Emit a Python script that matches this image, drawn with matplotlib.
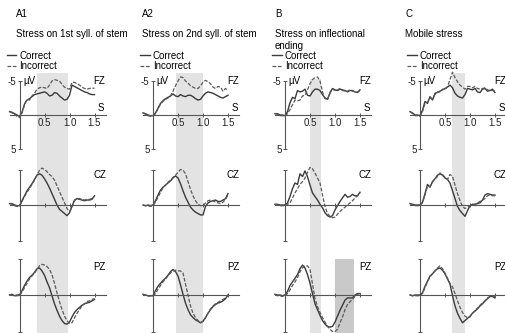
import matplotlib.pyplot as plt

plt.rcParams['font.family'] = ['Liberation Sans Narrow', 'Liberation Sans', 'DejaVu Sans']
plt.rcParams['font.size'] = 7

# time axis (s), shared by all curves
t = [-0.2, -0.15, -0.1, -0.05, 0.0, 0.05, 0.1, 0.15, 0.2, 0.25, 0.3, 0.35,
     0.4, 0.45, 0.5, 0.55, 0.6, 0.65, 0.7, 0.75, 0.8, 0.85, 0.9, 0.95,
     1.0, 1.05, 1.1, 1.15, 1.2, 1.25, 1.3, 1.35, 1.4, 1.45, 1.5]

# ---- amplitudes in µV (negative plotted up) ----
# A1: stress on 1st syllable of stem
a1_fz_cor = [-0.5, -0.4, -0.2, 0.0, 0.2, -0.4, -1.6, -2.2, -2.4, -2.7, -3.0, -3.1,
             -3.2, -3.3, -3.4, -3.2, -2.8, -2.9, -3.3, -3.2, -2.8, -2.5, -2.2, -2.3,
             -2.9, -4.4, -4.2, -4.0, -3.8, -3.6, -3.4, -3.3, -3.1, -3.0, -3.0]
a1_fz_inc = [-0.5, -0.3, -0.1, 0.2, 0.4, -0.3, -1.5, -2.3, -2.2, -2.8, -3.2, -3.8,
             -4.0, -4.1, -4.0, -3.9, -4.4, -5.0, -5.2, -5.1, -5.0, -4.5, -4.1, -3.9,
             -3.8, -4.8, -4.8, -4.6, -4.4, -4.1, -3.9, -3.8, -3.9, -4.0, -3.9]
a1_cz_cor = [-0.2, -0.2, 0.0, 0.1, 0.1, -0.6, -1.3, -2.0, -2.5, -3.0, -3.6, -4.2,
             -4.4, -4.2, -3.7, -3.1, -2.4, -1.6, -0.8, 0.0, 0.6, 0.9, 1.2, 1.5,
             1.1, 0.2, -0.7, -0.9, -0.8, -0.7, -0.6, -0.7, -0.7, -0.8, -1.3]
a1_cz_inc = [-0.2, -0.1, 0.1, 0.2, 0.2, -0.5, -1.2, -1.8, -2.3, -2.9, -3.5, -4.2,
             -4.9, -5.2, -5.0, -4.7, -4.3, -4.0, -3.5, -2.7, -1.9, -1.1, -0.3, 0.5,
             0.9, 0.3, -0.6, -0.9, -0.9, -0.8, -0.7, -0.8, -0.8, -0.9, -1.2]
a1_pz_cor = [0.0, -0.1, 0.1, 0.0, 0.0, -0.6, -1.3, -1.9, -2.4, -2.7, -3.1, -3.6,
             -3.7, -3.3, -2.7, -1.8, -1.0, 0.1, 1.2, 2.1, 2.9, 3.5, 3.9, 4.0,
             3.7, 3.0, 2.4, 2.0, 1.7, 1.4, 1.2, 1.1, 1.0, 0.8, 0.6]
a1_pz_inc = [0.0, 0.0, 0.1, 0.1, 0.1, -0.4, -1.0, -1.6, -2.2, -2.6, -3.0, -3.5,
             -4.0, -4.2, -4.1, -3.9, -3.5, -2.8, -1.6, -0.3, 0.9, 2.0, 2.9, 3.5,
             3.9, 3.8, 3.1, 2.5, 2.0, 1.5, 1.2, 0.9, 0.8, 0.6, 0.5]

# A2: stress on 2nd syllable of stem
a2_fz_cor = [-0.3, -0.2, 0.0, 0.1, 0.1, -0.3, -1.0, -1.7, -2.1, -2.4, -2.6, -2.8,
             -3.1, -2.8, -2.7, -3.0, -2.8, -2.7, -2.9, -2.9, -2.7, -2.4, -2.2, -2.3,
             -2.8, -3.2, -3.4, -3.3, -3.2, -3.0, -2.8, -2.6, -2.5, -2.7, -2.9]
a2_fz_inc = [-0.3, -0.1, 0.1, 0.2, 0.2, -0.2, -0.9, -1.6, -2.0, -2.3, -2.5, -2.8,
             -3.5, -4.3, -5.0, -5.6, -5.5, -5.0, -4.7, -4.3, -4.1, -3.9, -3.9, -4.3,
             -4.8, -5.1, -4.9, -4.6, -4.1, -3.9, -4.2, -4.1, -3.5, -3.9, -3.6]
a2_cz_cor = [0.0, 0.1, 0.0, 0.1, 0.0, -0.6, -1.4, -2.1, -2.5, -2.8, -3.1, -3.4,
             -3.8, -4.1, -3.8, -3.0, -2.0, -1.1, -0.4, 0.3, 0.7, 1.0, 1.2, 1.4,
             1.4, 0.2, -0.3, -0.5, -0.6, -0.7, -0.5, -0.5, -0.7, -0.9, -1.6]
a2_cz_inc = [0.0, 0.1, 0.1, 0.2, 0.1, -0.4, -1.1, -1.8, -2.4, -2.8, -3.2, -3.5,
             -3.9, -4.2, -4.6, -5.0, -4.9, -4.4, -3.3, -2.2, -1.3, -0.6, -0.1, 0.1,
             0.1, -0.3, -0.6, -0.7, -0.6, -0.4, -0.3, -0.2, -0.4, -0.8, -1.4]
a2_pz_cor = [-0.1, 0.0, 0.1, 0.1, 0.1, -0.6, -1.2, -1.6, -2.0, -2.3, -2.7, -3.2,
             -3.5, -3.2, -2.6, -1.4, -0.1, 1.1, 2.0, 2.7, 3.1, 3.4, 3.6, 3.8,
             3.6, 3.1, 2.5, 2.0, 1.6, 1.3, 1.1, 1.0, 0.8, 0.5, 0.0]
a2_pz_inc = [0.0, 0.0, 0.2, 0.1, 0.2, -0.2, -0.8, -1.3, -1.8, -2.2, -2.6, -3.0,
             -3.3, -3.4, -3.3, -3.3, -3.0, -1.5, 0.0, 1.5, 2.5, 3.1, 3.5, 3.8,
             3.6, 3.1, 2.5, 1.9, 1.5, 1.2, 1.0, 0.8, 0.6, 0.4, 0.1]

# B: stress on inflectional ending
b_fz_cor = [-0.2, -0.2, 0.0, 0.0, 0.1, -0.5, -1.8, -2.6, -2.4, -3.6, -3.4, -3.5,
            -3.8, -2.9, -2.8, -3.4, -3.8, -3.8, -3.6, -3.0, -2.5, -2.3, -3.3, -3.9,
            -3.7, -3.6, -3.8, -3.7, -3.6, -3.4, -3.6, -3.6, -3.4, -3.3, -3.7]
b_fz_inc = [-0.2, -0.1, 0.1, 0.1, 0.2, -0.2, -0.8, -1.5, -2.2, -2.1, -2.2, -2.8,
            -2.9, -3.7, -4.6, -5.2, -5.5, -5.6, -5.0, -3.4, -2.4, -2.3, -3.2, -3.8,
            -3.6, -3.7, -3.9, -3.6, -3.5, -3.5, -3.7, -3.5, -3.4, -3.4, -3.6]
b_cz_cor = [-0.1, -0.1, 0.0, 0.0, 0.0, -0.3, -1.2, -2.3, -3.1, -2.9, -4.4, -4.0,
            -4.8, -4.0, -2.8, -1.7, -1.2, -0.7, -0.1, 0.4, 1.1, 1.5, 1.7, 1.5,
            0.7, 0.1, -0.5, -1.0, -1.5, -1.1, -1.2, -1.5, -1.3, -1.3, -1.8]
b_cz_inc = [-0.1, 0.0, 0.1, 0.1, 0.1, -0.1, -0.3, -1.0, -1.7, -2.3, -2.9, -3.3,
            -3.8, -4.6, -5.3, -5.1, -4.5, -3.8, -3.1, -1.4, 0.2, 1.2, 1.6, 1.8,
            1.7, 1.3, 0.9, 0.6, 0.3, 0.0, -0.3, -0.6, -1.0, -1.3, -1.7]
b_pz_cor = [-0.1, 0.0, 0.0, 0.1, 0.0, -0.5, -1.3, -1.8, -2.3, -2.8, -3.6, -4.1,
            -3.7, -2.8, -1.6, -0.2, 1.2, 2.0, 2.8, 3.5, 4.0, 4.3, 4.4, 4.3,
            3.7, 2.9, 2.1, 1.4, 0.7, 0.4, 0.4, 0.4, 0.0, -0.2, -0.2]
b_pz_inc = [-0.1, 0.1, 0.1, 0.2, 0.1, -0.2, -0.7, -1.3, -1.8, -2.4, -3.2, -3.7,
            -4.0, -4.0, -3.5, -1.5, 0.5, 1.6, 2.4, 3.1, 3.7, 4.3, 4.7, 5.0,
            5.0, 4.7, 3.8, 3.0, 2.0, 1.3, 0.9, 0.6, 0.2, -0.1, -0.2]

# C: mobile stress
c_fz_cor = [-0.5, -0.3, 0.0, 0.0, 0.1, -0.7, -2.0, -1.7, -2.7, -2.2, -3.2, -3.3,
            -3.5, -3.7, -3.9, -4.1, -4.4, -4.0, -3.2, -2.8, -2.6, -2.5, -3.0, -3.9,
            -3.8, -3.7, -3.9, -3.4, -3.3, -3.8, -3.9, -3.5, -3.6, -3.8, -3.3]
c_fz_inc = [-0.5, -0.2, 0.1, 0.1, 0.2, -0.5, -1.7, -1.9, -2.5, -2.4, -3.0, -3.4,
            -3.4, -3.8, -3.7, -4.2, -5.2, -6.3, -5.5, -4.9, -4.4, -4.1, -3.8, -4.2,
            -4.2, -4.0, -4.2, -3.9, -3.8, -3.9, -4.0, -3.7, -3.6, -3.6, -3.5]
c_cz_cor = [-0.2, -0.1, 0.0, 0.0, 0.0, -0.4, -1.6, -2.9, -2.5, -3.3, -3.7, -4.2,
            -4.4, -4.2, -3.8, -3.6, -3.1, -2.0, -0.9, 0.2, 0.8, 1.2, 1.6, 0.8,
            0.1, -0.1, -0.1, -0.2, -0.3, -0.7, -1.4, -1.6, -1.5, -1.4, -1.4]
c_cz_inc = [-0.2, 0.0, 0.1, 0.1, 0.1, -0.3, -1.4, -2.6, -2.6, -3.2, -3.7, -4.0,
            -4.5, -4.3, -3.9, -3.6, -4.3, -4.0, -2.8, -1.6, -0.6, 0.2, 0.5, 0.3,
            0.1, 0.0, -0.1, -0.3, -0.5, -0.7, -0.9, -1.3, -1.4, -1.3, -1.3]
c_pz_cor = [0.0, 0.1, 0.0, 0.0, 0.0, -0.3, -1.2, -1.9, -2.6, -2.9, -3.3, -3.6,
            -3.7, -3.4, -2.9, -2.2, -1.5, 0.1, 1.5, 2.5, 3.2, 3.8, 3.5, 3.2,
            2.9, 2.5, 2.2, 1.9, 1.5, 1.2, 0.8, 0.5, 0.2, 0.2, 0.4]
c_pz_inc = [0.0, 0.1, 0.1, 0.1, 0.1, -0.2, -1.0, -1.8, -2.5, -2.9, -3.3, -3.7,
            -4.0, -3.6, -3.0, -2.3, -1.6, -1.1, -0.2, 0.8, 1.7, 2.4, 2.9, 3.1,
            3.0, 2.5, 2.1, 1.8, 1.4, 1.1, 0.8, 0.4, 0.2, 0.1, 0.2]

panel_ids = ['A1', 'A2', 'B', 'C']
panel_titles = ['Stress on 1st syll. of stem', 'Stress on 2nd syll. of stem',
                'Stress on inflectional\nending', 'Mobile stress']
electrodes = ['FZ', 'CZ', 'PZ']
# analysis windows (s)
windows = [(0.35, 0.97), (0.46, 1.0), (0.5, 0.72), (0.63, 0.9)]
b_pz_window = (1.0, 1.38)
x_ticks = [0.5, 1.0, 1.5]
x_tick_labels = ['0.5', '1.0', '1.5']

curves = [
    [(a1_fz_cor, a1_fz_inc), (a1_cz_cor, a1_cz_inc), (a1_pz_cor, a1_pz_inc)],
    [(a2_fz_cor, a2_fz_inc), (a2_cz_cor, a2_cz_inc), (a2_pz_cor, a2_pz_inc)],
    [(b_fz_cor, b_fz_inc), (b_cz_cor, b_cz_inc), (b_pz_cor, b_pz_inc)],
    [(c_fz_cor, c_fz_inc), (c_cz_cor, c_cz_inc), (c_pz_cor, c_pz_inc)],
]

# ---- layout (pixels) ----
W, H = 505, 333
col_zero = [19.5, 153, 285, 420]
title_x = [16, 142, 275, 405]
shade_top = [73, 73, 79, 73]
row_base = [115, 205, 295]
row_scale = [6.8, 7.1, 7.3]
px_per_s = 50
t_lo, t_hi = -0.3, 1.8
v_top, v_bot = -7, 6

axis_col = '#555555'
light = '#e3e3e3'
dark = '#c9c9c9'


def box(x0, x1, ytop, ybot):
    return [x0 / W, 1 - ybot / H, (x1 - x0) / W, (ybot - ytop) / H]


fig = plt.figure(figsize=(W / 100, H / 100), dpi=100)

for c in range(4):
    z = col_zero[c]
    xl, xr = z + t_lo * px_per_s, z + t_hi * px_per_s

    # shaded time window spanning all rows
    bg = fig.add_axes(box(xl, xr, shade_top[c], H), zorder=0)
    bg.set_xlim(t_lo, t_hi)
    bg.axis('off')
    bg.axvspan(windows[c][0], windows[c][1], color=light, lw=0)

    fig.text(title_x[c] / W, 1 - 14 / H, panel_ids[c], va='center', ha='left')
    fig.text(title_x[c] / W, 1 - 29 / H, panel_titles[c], va='top', ha='left',
             linespacing=1.25)

    for r in range(3):
        b, s = row_base[r], row_scale[r]
        ax = fig.add_axes(box(xl, xr, b + v_top * s, b + v_bot * s), zorder=1)
        ax.patch.set_alpha(0)
        ax.set_xlim(t_lo, t_hi)
        ax.set_ylim(v_bot, v_top)

        for side in ['top', 'right']:
            ax.spines[side].set_visible(False)
        ax.spines['left'].set_position(('data', 0))
        ax.spines['left'].set_bounds(-5, 5)
        ax.spines['bottom'].set_position(('data', 0))
        ax.spines['bottom'].set_bounds(-0.2, 1.72)
        for side in ['left', 'bottom']:
            ax.spines[side].set_color(axis_col)
            ax.spines[side].set_linewidth(0.8)

        ax.set_yticks([-5, 5])
        ax.set_xticks(x_ticks)
        ax.tick_params(colors=axis_col, width=0.7, length=3, direction='inout',
                       pad=1, labelsize=7, labelcolor='#222222')

        if r == 0:
            ax.set_yticklabels(['-5', '5'])
            ax.set_xticklabels(x_tick_labels)
            ax.text(0.07, -5, 'µV', va='center', ha='left')
            ax.text(1.63, -1.0, 'S', va='center', ha='center')
        else:
            ax.set_yticklabels([])
            ax.set_xticklabels([])

        ax.text(1.6, [-5, -4.2, -3.8][r], electrodes[r], va='center', ha='center')

        if c == 2 and r == 2:
            ax.fill_between(b_pz_window, -5, v_bot, color=dark, lw=0, zorder=0)

        cor, inc = curves[c][r]
        ax.plot(t, cor, color='#3a3a3a', lw=1.0, label='Correct')
        ax.plot(t, inc, color='#5a5a5a', lw=0.9, dashes=(3, 1.3), label='Incorrect')

        if r == 0:
            ax.legend(loc='lower left', bbox_to_anchor=((z - 13) / W, 1 - 71 / H),
                      bbox_transform=fig.transFigure, frameon=False, fontsize=7,
                      handlelength=1.0, handletextpad=0.3, labelspacing=0.05,
                      borderpad=0, borderaxespad=0)

fig.savefig('out.png', dpi=100)
